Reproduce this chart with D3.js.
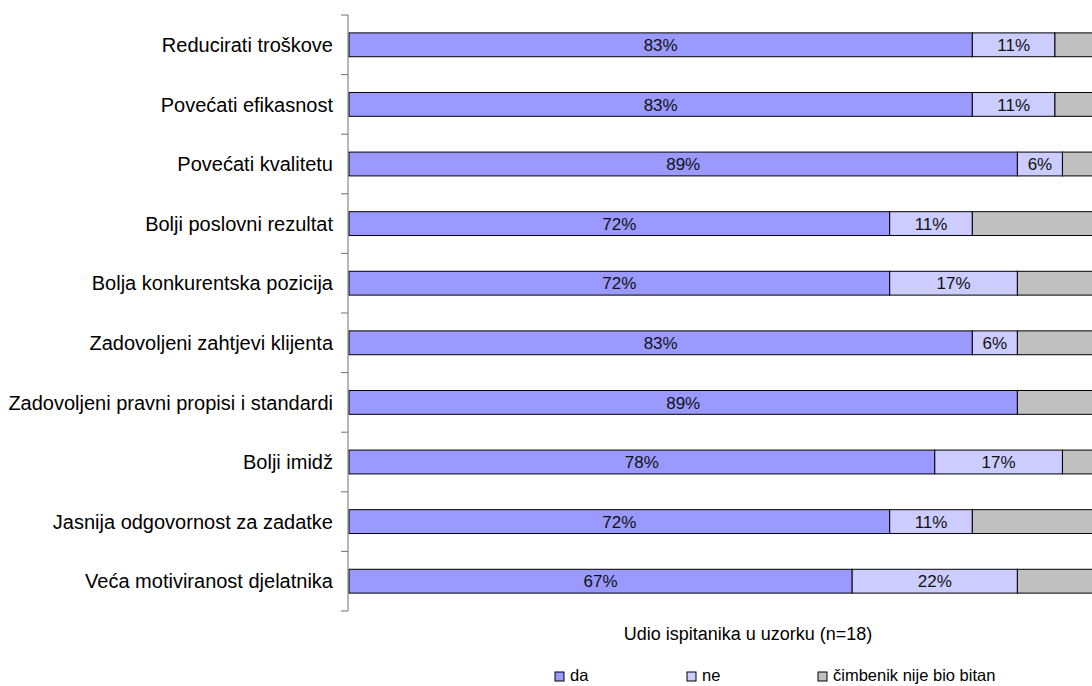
<!DOCTYPE html>
<html>
<head>
<meta charset="utf-8">
<script src="https://cdn.jsdelivr.net/npm/d3@7/dist/d3.min.js"></script>
<style>
  html, body { margin: 0; padding: 0; background: #fff; }
  svg { display: block; font-family: "Liberation Sans", Arial, sans-serif; }
</style>
</head>
<body>
<svg id="chart" width="1092" height="686"></svg>
<script>
// Survey motives, share of respondents (n=18)
const categories = [
  "Reducirati troškove",
  "Povećati efikasnost",
  "Povećati kvalitetu",
  "Bolji poslovni rezultat",
  "Bolja konkurentska pozicija",
  "Zadovoljeni zahtjevi klijenta",
  "Zadovoljeni pravni propisi i standardi",
  "Bolji imidž",
  "Jasnija odgovornost za zadatke",
  "Veća motiviranost djelatnika"
];
const da = [83, 83, 89, 72, 72, 83, 89, 78, 72, 67];
const ne = [11, 11, 6, 11, 17, 6, 0, 17, 11, 22];
const nebitno = [6, 6, 6, 17, 11, 11, 11, 6, 17, 11];

const seriesNames = ["da", "ne", "čimbenik nije bio bitan"];
const seriesColors = ["#9999FF", "#CCCCFF", "#C0C0C0"];
const axisTitle = "Udio ispitanika u uzorku (n=18)";

const rows = categories.map((c, i) => ({ cat: c, s0: da[i], s1: ne[i], s2: nebitno[i] }));
const stack = d3.stack().keys(["s0", "s1", "s2"])(rows);

const svg = d3.select("#chart");

const x = d3.scaleLinear().domain([0, 100]).range([349, 1100]);
const y = d3.scaleBand().domain(categories).range([15, 611]).paddingInner(0.6).paddingOuter(0.3);

// bars
const layers = svg.append("g").selectAll("g").data(stack).join("g")
  .attr("fill", (d, i) => seriesColors[i]);

layers.selectAll("rect").data(d => d.filter(p => p[1] - p[0] > 0)).join("rect")
  .attr("x", d => x(d[0]))
  .attr("y", d => y(d.data.cat))
  .attr("width", d => x(d[1]) - x(d[0]))
  .attr("height", y.bandwidth())
  .attr("stroke", "#000")
  .attr("stroke-width", 1);

// value labels on the first two series
stack.slice(0, 2).forEach((layer) => {
  svg.append("g").selectAll("text").data(layer.filter(p => p[1] - p[0] > 0)).join("text")
    .attr("x", d => (x(d[0]) + x(d[1])) / 2)
    .attr("y", d => y(d.data.cat) + y.bandwidth() / 2)
    .attr("dy", "0.36em")
    .attr("text-anchor", "middle")
    .attr("font-size", 17)
    .attr("fill", "#111")
    .text(d => Math.round(d[1] - d[0]) + "%");
});

// category axis with ticks between the bands
const axisG = svg.append("g").attr("stroke", "#707070");
axisG.append("line").attr("x1", 348).attr("x2", 348).attr("y1", y.range()[0]).attr("y2", y.range()[1]);
const step = (y.range()[1] - y.range()[0]) / categories.length;
d3.range(categories.length + 1).forEach(k => {
  axisG.append("line")
    .attr("x1", 341).attr("x2", 348)
    .attr("y1", y.range()[0] + k * step).attr("y2", y.range()[0] + k * step);
});

svg.append("g").selectAll("text").data(categories).join("text")
  .attr("x", 333)
  .attr("y", d => y(d) + y.bandwidth() / 2)
  .attr("dy", "0.36em")
  .attr("text-anchor", "end")
  .attr("font-size", 20)
  .attr("fill", "#000")
  .text(d => d);

// axis title
svg.append("text")
  .attr("x", 748).attr("y", 640)
  .attr("text-anchor", "middle")
  .attr("font-size", 18)
  .attr("fill", "#000")
  .text(axisTitle);

// legend
const legendX = [555, 687, 818];
const lg = svg.append("g").selectAll("g").data(seriesNames).join("g")
  .attr("transform", (d, i) => `translate(${legendX[i]},672)`);
lg.append("rect").attr("width", 9).attr("height", 9)
  .attr("fill", (d, i) => seriesColors[i]).attr("stroke", "#000").attr("stroke-width", 1);
lg.append("text").attr("x", 15).attr("y", 9)
  .attr("font-size", 16.5).attr("fill", "#000").text(d => d);
</script>
</body>
</html>
